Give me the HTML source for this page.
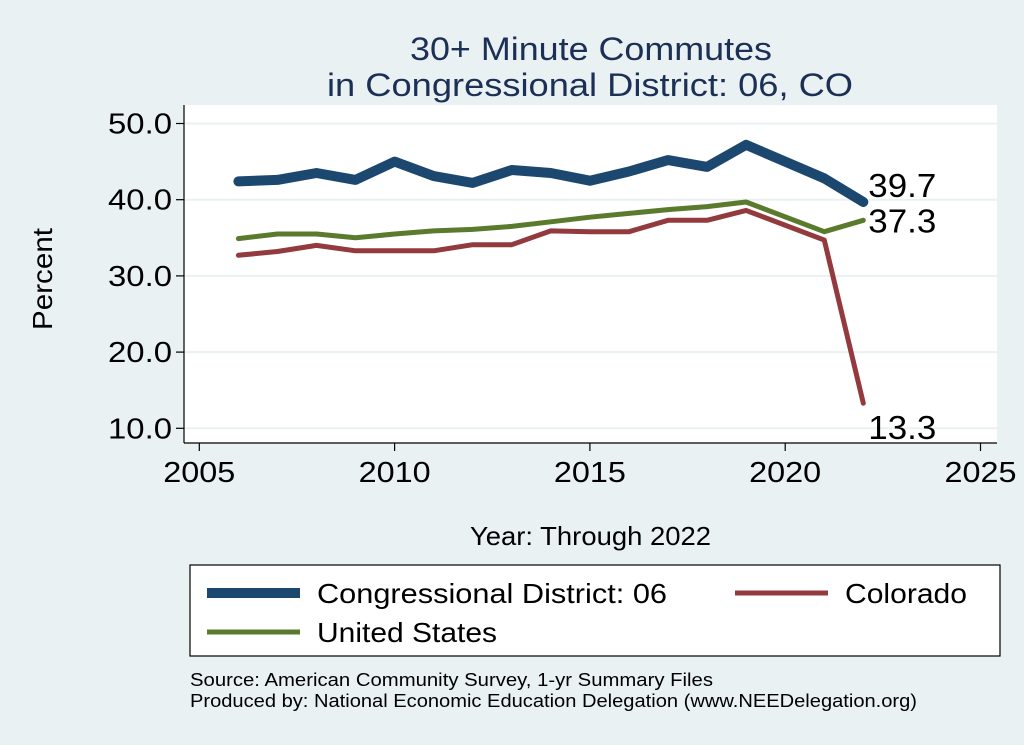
<!DOCTYPE html>
<html><head><meta charset="utf-8"><style>
body{margin:0;background:#eaf1f3;}
svg{display:block;font-family:"Liberation Sans",Arial,sans-serif;}
</style></head><body>
<svg id="c" width="1024" height="745" xml:space="preserve">
<rect x="0" y="0" width="1024" height="745" fill="#eaf1f3"/>
<text x="410" y="60" font-size="32" fill="#1c2f55" textLength="362" lengthAdjust="spacingAndGlyphs">30+ Minute Commutes</text>
<text x="327" y="96" font-size="32" fill="#1c2f55" textLength="526" lengthAdjust="spacingAndGlyphs">in Congressional District:  06, CO</text>
<rect x="184" y="105" width="813" height="338" fill="#fff"/>
<g id="grid"></g>
<g id="axes"></g>
<g id="series"></g>
<text x="52" y="279" font-size="28" fill="#000" text-anchor="middle" textLength="102" lengthAdjust="spacingAndGlyphs" transform="rotate(-90 52 279)">Percent</text>
<text x="470" y="545" font-size="26" fill="#000" textLength="241" lengthAdjust="spacingAndGlyphs">Year: Through 2022</text>
<g>
<rect x="190" y="565" width="810" height="91" fill="#fff" stroke="#000" stroke-width="1.2"/>
<line x1="207" y1="593" x2="300" y2="593" stroke="#1c4870" stroke-width="10"/>
<text x="317" y="603" font-size="28" textLength="350" lengthAdjust="spacingAndGlyphs">Congressional District:  06</text>
<line x1="735" y1="593" x2="828" y2="593" stroke="#933a3f" stroke-width="5"/>
<text x="845" y="603" font-size="28" textLength="122" lengthAdjust="spacingAndGlyphs">Colorado</text>
<line x1="207" y1="632" x2="300" y2="632" stroke="#5a7a2c" stroke-width="5"/>
<text x="317" y="642" font-size="28" textLength="180" lengthAdjust="spacingAndGlyphs">United States</text>
</g>
<text x="190" y="686" font-size="18" textLength="523" lengthAdjust="spacingAndGlyphs">Source: American Community Survey, 1-yr Summary Files</text>
<text x="190" y="707" font-size="18" textLength="727" lengthAdjust="spacingAndGlyphs">Produced by: National Economic Education Delegation (www.NEEDelegation.org)</text>
</svg>
<script>
const years=[2006,2007,2008,2009,2010,2011,2012,2013,2014,2015,2016,2017,2018,2019,2020,2021,2022];
const district=[42.4,42.6,43.5,42.6,45.0,43.1,42.2,43.9,43.5,42.5,43.7,45.2,44.3,47.2,null,42.8,39.7];
const colorado=[32.7,33.2,34.0,33.3,33.3,33.3,34.1,34.1,35.9,35.8,35.8,37.3,37.3,38.6,null,34.7,13.3];
const unitedStates=[34.9,35.5,35.5,35.0,35.5,35.9,36.1,36.5,37.1,37.7,38.2,38.7,39.1,39.7,null,35.8,37.3];
const yTicks=[10,20,30,40,50];
const xTicks=[2005,2010,2015,2020,2025];
const NS="http://www.w3.org/2000/svg";
const X=v=>199.3+(v-2005)*39.06;
const Y=v=>123.5+(50-v)*7.62;
function mk(tag,at,parent){const e=document.createElementNS(NS,tag);for(const k in at)e.setAttribute(k,at[k]);parent.appendChild(e);return e;}
const grid=document.getElementById('grid'),axes=document.getElementById('axes'),ser=document.getElementById('series');
yTicks.forEach(t=>{
 const g=mk('line',{x1:184,x2:997,y1:Y(t),y2:Y(t),stroke:'#eaf1f3','stroke-width':2},grid);
 
 
 const tk=mk('line',{x1:176,x2:184,y1:Y(t),y2:Y(t),stroke:'#000','stroke-width':1.2},axes);
 
 
 const l=mk('text',{x:108,y:Y(t)+10,'font-size':29,textLength:64,lengthAdjust:'spacingAndGlyphs'},axes);
 l.textContent=t.toFixed(1);
 
 
});
xTicks.forEach(t=>{
 const tk=mk('line',{x1:X(t),x2:X(t),y1:443,y2:451,stroke:'#000','stroke-width':1.2},axes);
 
 
 const l=mk('text',{x:X(t)-36,y:482,'font-size':29,textLength:72,lengthAdjust:'spacingAndGlyphs'},axes);
 l.textContent=t;
 
 
});
const ya=mk('line',{x1:184,x2:184,y1:105,y2:443,stroke:'#000','stroke-width':1.2},axes);


const xa=mk('line',{x1:184,x2:997,y1:443,y2:443,stroke:'#000','stroke-width':1.2},axes);


function line(vals,color,w,name,labelDy){
 const pts=[];years.forEach((y,i)=>{if(vals[i]!==null)pts.push(X(y).toFixed(1)+','+Y(vals[i]).toFixed(1));});
 const p=mk('polyline',{points:pts.join(' '),fill:'none',stroke:color,'stroke-width':w,'stroke-linejoin':'round','stroke-linecap':'round'},ser);
 
 
 const last=vals[vals.length-1];
 const l=mk('text',{x:X(years[years.length-1])+5,y:Y(last)+labelDy,'font-size':33,textLength:68,lengthAdjust:'spacingAndGlyphs'},ser);
 l.textContent=last.toFixed(1);
 
 
}
line(colorado,'#933a3f',5,'colorado-line',36);
line(unitedStates,'#5a7a2c',5,'us-line',12);
line(district,'#1c4870',10,'district-line',-5);
</script>
</body></html>
